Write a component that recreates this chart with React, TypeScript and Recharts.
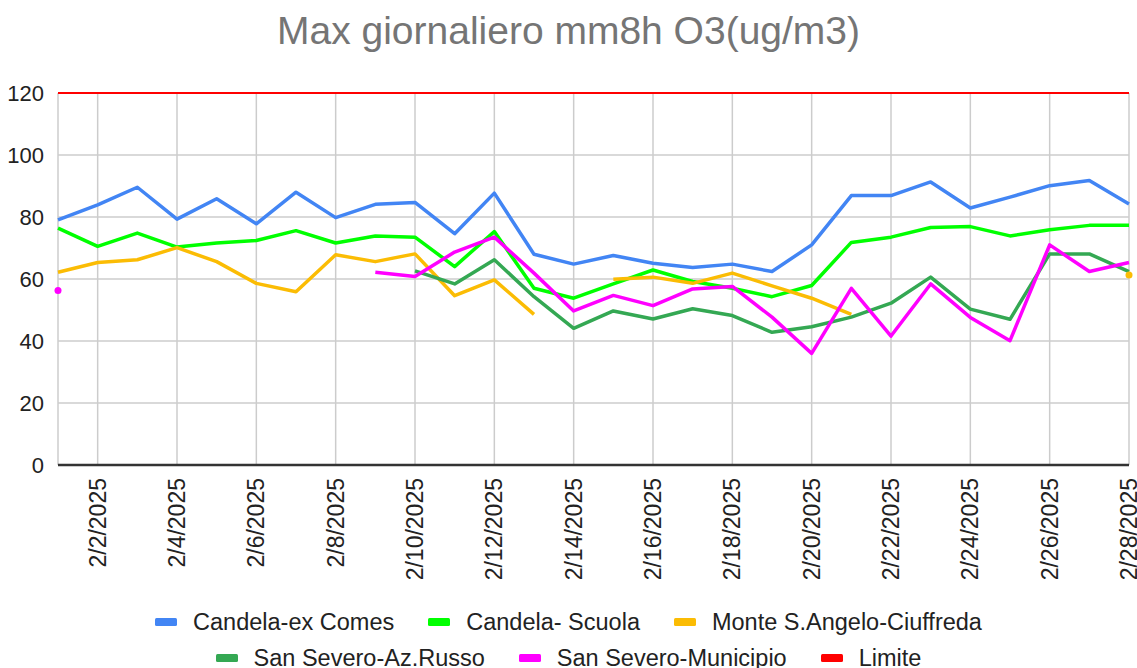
import React from "react";
import { LineChart, Line, XAxis, YAxis, CartesianGrid } from "recharts";

const days = [1,2,3,4,5,6,7,8,9,10,11,12,13,14,15,16,17,18,19,20,21,22,23,24,25,26,27,28];
const xTicks = [1,2,4,6,8,10,12,14,16,18,20,22,24,26,28];
const yTicks = [0,20,40,60,80,100,120];

const candelaExComes = [79.1,83.9,89.6,79.3,85.9,77.8,88.0,79.8,84.1,84.7,74.6,87.7,68.0,64.8,67.6,65.1,63.7,64.8,62.4,71.0,86.9,86.9,91.3,82.9,86.4,90.1,91.8,84.2];
const candelaScuola = [76.4,70.5,74.8,70.3,71.6,72.4,75.6,71.6,73.9,73.5,64.0,75.3,57.0,53.8,58.4,62.9,59.2,57.0,54.3,57.9,71.8,73.5,76.6,76.9,73.9,75.9,77.3,77.3];
const monteSAngelo = [62.2,65.3,66.2,70.1,65.6,58.6,55.9,67.8,65.6,68.1,54.6,59.7,48.6,null,59.9,60.6,58.6,61.9,57.8,53.8,48.6,null,null,null,null,null,null,61.3];
const sanSeveroRusso = [null,null,null,null,null,null,null,null,null,62.6,58.4,66.2,54.3,44.1,49.7,47.1,50.4,48.2,42.8,44.6,47.7,52.2,60.6,50.3,47.0,68.1,68.1,62.4];
const sanSeveroMunicipio = [56.3,null,null,null,null,null,null,null,62.2,60.8,68.7,73.5,61.9,49.7,54.7,51.4,56.8,57.6,47.7,36.0,57.0,41.6,58.4,47.6,40.1,71.0,62.4,65.3];
const limite = [120,120,120,120,120,120,120,120,120,120,120,120,120,120,120,120,120,120,120,120,120,120,120,120,120,120,120,120];

const seriesDefs = [
  { key: "s1", name: "Candela-ex Comes", color: "#4285F4", values: candelaExComes, width: 3.5 },
  { key: "s2", name: "Candela- Scuola", color: "#00FF00", values: candelaScuola, width: 3.5 },
  { key: "s3", name: "Monte S.Angelo-Ciuffreda", color: "#FBBC04", values: monteSAngelo, width: 3.5 },
  { key: "s4", name: "San Severo-Az.Russo", color: "#34A853", values: sanSeveroRusso, width: 3.5 },
  { key: "s5", name: "San Severo-Municipio", color: "#FF00FF", values: sanSeveroMunicipio, width: 3.5 },
  { key: "s6", name: "Limite", color: "#FF0000", values: limite, width: 2 },
];

const data = days.map((d, i) => {
  const row: any = { day: d };
  seriesDefs.forEach((s) => { row[s.key] = s.values[i]; });
  return row;
});

const FONT = '"Liberation Sans", Arial, sans-serif';

const makeDot = (values: (number | null)[], color: string) => (props: any) => {
  const { cx, cy, index } = props;
  const v = values[index];
  const prev = index > 0 ? values[index - 1] : null;
  const next = index < values.length - 1 ? values[index + 1] : null;
  if (v == null || cx == null || cy == null || prev != null || next != null) {
    return <g key={`d-${index}`} />;
  }
  return <circle key={`d-${index}`} cx={cx} cy={cy} r={3.5} fill={color} />;
};

const XTick = (props: any) => {
  const { x, y, payload } = props;
  if (payload.value === 1) return <g />;
  return (
    <text
      x={x}
      y={y}
      transform={`rotate(-90, ${x}, ${y})`}
      textAnchor="end"
      dominantBaseline="central"
      fontSize={23}
      fontFamily={FONT}
      fill="#222"
    >{`2/${payload.value}/2025`}</text>
  );
};

const YTick = (props: any) => {
  const { x, y, payload } = props;
  return (
    <text x={x} y={y} textAnchor="end" dominantBaseline="central" fontSize={22} fontFamily={FONT} fill="#222">
      {payload.value}
    </text>
  );
};

const legendRows = [seriesDefs.slice(0, 3), seriesDefs.slice(3, 6)];

export default function App() {
  return (
    <div style={{ position: "absolute", left: 0, top: 0, width: 1137, height: 668, background: "#fff", fontFamily: FONT, overflow: "hidden" }}>
      <div style={{ position: "absolute", left: 0, top: 11, width: 1137, textAlign: "center", fontSize: 39, lineHeight: "39px", color: "#757575" }}>
        Max giornaliero mm8h O3(ug/m3)
      </div>
      <LineChart width={1137} height={668} data={data} margin={{ top: 93, right: 8, left: 0, bottom: 0 }}>
        <CartesianGrid stroke="#cccccc" strokeWidth={1.5} />
        <XAxis
          dataKey="day"
          type="number"
          domain={[1, 28]}
          ticks={xTicks}
          interval={0}
          height={203}
          tickSize={0}
          tickMargin={13}
          tickLine={false}
          axisLine={{ stroke: "#333", strokeWidth: 2.5 }}
          tick={<XTick />}
        />
        <YAxis
          type="number"
          domain={[0, 120]}
          ticks={yTicks}
          width={58}
          tickSize={0}
          tickMargin={14}
          tickLine={false}
          axisLine={false}
          tick={<YTick />}
        />
        {seriesDefs.map((s) => (
          <Line
            key={s.key}
            dataKey={s.key}
            name={s.name}
            stroke={s.color}
            strokeWidth={s.width}
            strokeLinejoin="round"
            dot={makeDot(s.values, s.color)}
            activeDot={false}
            isAnimationActive={false}
            type="linear"
          />
        ))}
      </LineChart>
      <div style={{ position: "absolute", left: 0, top: 604, width: 1137 }}>
        {legendRows.map((row, ri) => (
          <div key={ri} style={{ display: "flex", justifyContent: "center", alignItems: "center", height: 36 }}>
            {row.map((s, i) => (
              <div key={s.key} style={{ display: "flex", alignItems: "center", marginLeft: i === 0 ? 0 : 34 }}>
                <div style={{ width: 22, height: 8, background: s.color, borderRadius: 1.5, marginRight: 16 }} />
                <span style={{ fontSize: 23.5, color: "#222", lineHeight: "22px", whiteSpace: "nowrap" }}>{s.name}</span>
              </div>
            ))}
          </div>
        ))}
      </div>
    </div>
  );
}
